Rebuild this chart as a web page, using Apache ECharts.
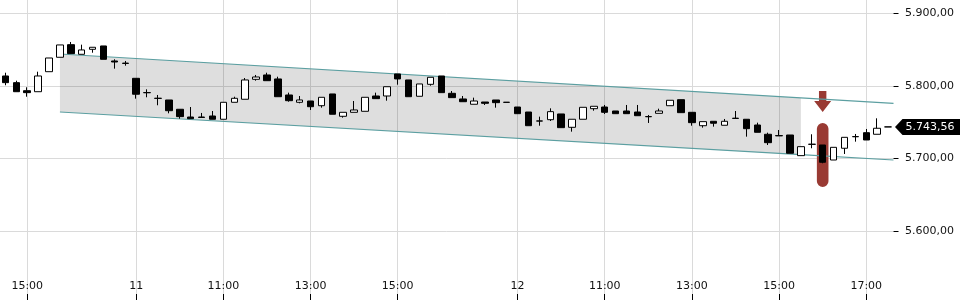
<!DOCTYPE html>
<html><head><meta charset="utf-8">
<script src="https://cdn.jsdelivr.net/npm/echarts@6/dist/echarts.min.js"></script>
<style>html,body{margin:0;padding:0;background:#fff}#c{width:960px;height:300px}</style>
</head><body><div id="c"></div>
<script>
// Sessions (day, first candle, last candle) of 15-minute candles
const sessionDays  = ['10', '11', '12'];
const sessionStart = ['14:30', '09:00', '09:00'];
const sessionEnd   = ['17:15', '17:30', '17:30'];

// Candle values
const openVals  = [5813.8,5804.6,5793.5,5792.1,5819.7,5839.6,5857.0,5843.7,5850.6,5855.2,5834.5,5831.0,
  5810.6,5790.9,5783.1,5780.7,5767.9,5757.2,5757.2,5758.6,5754.1,5777.5,5781.7,5809.2,5815.2,5809.7,5787.6,5777.5,
  5779.3,5772.8,5789.0,5758.2,5763.7,5765.1,5786.2,5786.2,5816.6,5808.3,5785.8,5802.3,5813.8,5789.9,5782.1,5774.8,
  5777.9,5780.7,5777.6,
  5771.0,5764.1,5751.8,5753.5,5761.4,5743.0,5754.1,5768.7,5771.0,5765.5,5765.5,5764.1,5757.8,5762.3,5772.8,5781.1,
  5763.7,5745.2,5751.3,5745.8,5755.6,5754.1,5746.2,5733.4,5731.6,5732.4,5703.9,5719.7,5718.6,5697.9,5714.1,5730.2,
  5735.6,5733.4,5743.56];
const closeVals = [5804.6,5792.1,5790.8,5813.8,5838.6,5856.6,5844.6,5849.7,5853.4,5836.8,5833.1,5831.6,
  5788.6,5790.7,5782.9,5765.9,5757.7,5754.9,5756.6,5754.1,5777.5,5783.0,5808.3,5812.4,5807.3,5785.2,5779.7,5780.7,
  5771.4,5784.4,5761.0,5763.7,5766.9,5784.4,5782.5,5799.0,5809.7,5785.2,5802.8,5812.0,5790.8,5783.9,5778.3,5779.3,
  5776.1,5777.0,5777.4,
  5761.8,5745.2,5751.6,5764.6,5742.5,5754.1,5770.6,5772.0,5763.7,5761.8,5761.8,5759.0,5757.6,5765.5,5780.3,5763.2,
  5749.4,5750.8,5748.6,5751.3,5755.2,5741.1,5736.1,5721.8,5731.2,5707.2,5716.3,5719.5,5694.8,5715.4,5729.2,5730.0,
  5725.5,5741.7,5743.56];
const lowVals   = [5801.0,5792.1,5785.2,5792.1,5819.7,5839.6,5844.6,5843.7,5845.9,5836.8,5823.9,5828.0,
  5782.5,5784.4,5773.4,5762.3,5754.9,5754.9,5756.6,5754.1,5754.1,5777.5,5781.7,5807.3,5807.3,5785.2,5778.3,5776.1,
  5766.9,5770.1,5761.0,5756.3,5763.7,5765.1,5782.5,5779.7,5801.8,5785.2,5785.8,5800.4,5790.8,5783.9,5778.3,5774.8,
  5773.8,5770.1,5777.4,
  5761.8,5745.2,5745.2,5751.7,5742.5,5737.0,5754.1,5765.9,5761.4,5761.8,5761.8,5759.0,5749.0,5762.3,5772.8,5763.2,
  5745.2,5742.5,5743.9,5745.8,5755.2,5730.1,5736.1,5718.6,5731.2,5707.2,5703.9,5714.1,5693.4,5697.9,5706.2,5723.2,
  5725.5,5733.4,5743.56];
const highVals  = [5818.3,5807.3,5798.2,5819.7,5838.6,5856.6,5860.7,5857.0,5853.4,5855.2,5836.8,5834.5,
  5810.6,5795.4,5787.6,5780.7,5767.9,5771.0,5762.8,5765.5,5777.5,5785.2,5811.0,5815.2,5818.3,5812.8,5790.8,5786.2,
  5779.3,5784.4,5789.0,5763.7,5779.3,5784.4,5790.8,5799.0,5816.6,5808.3,5802.8,5812.0,5813.8,5793.1,5786.2,5783.9,
  5777.9,5780.7,5777.6,
  5771.0,5764.1,5757.7,5769.2,5761.4,5754.1,5770.6,5772.0,5773.8,5765.5,5773.8,5773.8,5760.0,5768.7,5780.3,5781.1,
  5763.7,5750.8,5751.3,5754.5,5765.5,5754.1,5749.4,5735.6,5739.3,5732.4,5716.3,5733.4,5718.6,5715.4,5729.2,5733.8,
  5740.7,5755.4,5743.56];
const lastPrice = 5743.56;

// Trend channel (x = candle index, y = price)
const channelUpper = [[5, 5844.1], [73, 5783.7], [81.5, 5776.1]];
const channelLower = [[5, 5764.1], [73, 5705.3], [81.5, 5697.9]];

// Signal marker (candle index, arrow top / shaft end / tip, bar top / bottom)
const markerIndex = 75;
const arrowLevels = [5793.1, 5779.3, 5764.1];
const barLevels = [5749.0, 5660.7];

// Axis tick labels
const tickCategories = ['10 15:00','11 09:00','11 11:00','11 13:00','11 15:00','12 09:00','12 11:00','12 13:00','12 15:00','12 17:00'];

const toMin = s => { const p = s.split(':'); return (+p[0]) * 60 + (+p[1]); };
const pad = n => (n < 10 ? '0' : '') + n;
const categories = [];
sessionDays.forEach((d, i) => {
  for (let m = toMin(sessionStart[i]); m <= toMin(sessionEnd[i]); m += 15) {
    categories.push(d + ' ' + pad(Math.floor(m / 60)) + ':' + pad(m % 60));
  }
});
const candleData = openVals.map((o, i) => [o, closeVals[i], lowVals[i], highVals[i]]);

const fmtDE = v => {
  const s = v.toFixed(2).split('.');
  return s[0].replace(/\B(?=(\d{3})+(?!\d))/g, '.') + ',' + s[1];
};
const showTick = (idx, val) => tickCategories.indexOf(categories[idx]) >= 0;
const FONT = 'DejaVu Sans';
const RED = '#993a33';
const gridColor = '#dadada';

const chart = echarts.init(document.getElementById('c'), null, {renderer: 'canvas'});
chart.setOption({
  animation: false,
  grid: {left: 0, right: 66.5, top: 0, bottom: 0},
  xAxis: [{
    type: 'category', data: categories, boundaryGap: true,
    axisLine: {show: false, onZero: false},
    axisTick: {show: true, inside: true, length: 6, alignWithLabel: true, interval: showTick, lineStyle: {color: '#000'}},
    axisLabel: {inside: true, margin: 8, interval: showTick, color: '#111', fontFamily: FONT, fontSize: 11,
      formatter: v => { const p = v.split(' '); return p[1] === '09:00' ? p[0] : p[1]; }},
    splitLine: {show: true, interval: showTick, alignWithLabel: true, lineStyle: {color: gridColor}}
  }, {
    type: 'value', min: -0.5, max: 81.5, show: false, axisLine: {onZero: false}
  }],
  yAxis: {
    type: 'value', position: 'right', min: 5504.8, max: 5918.6, splitNumber: 4, minInterval: 100, maxInterval: 100,
    axisLine: {show: false, onZero: false},
    axisTick: {show: true, length: 5, lineStyle: {color: '#000'}},
    axisLabel: {margin: 11.5, color: '#111', fontFamily: FONT, fontSize: 11, showMinLabel: false, showMaxLabel: false,
      formatter: v => fmtDE(v)},
    splitLine: {show: true, showMinLine: false, showMaxLine: false, lineStyle: {color: gridColor}}
  },
  series: [{
    type: 'custom', xAxisIndex: 1, yAxisIndex: 0, silent: true, clip: false, z: 1,
    data: [channelUpper[0]],
    renderItem: (params, api) => ({
      type: 'polygon',
      shape: {points: [api.coord(channelUpper[0]), api.coord(channelUpper[1]), api.coord(channelLower[1]), api.coord(channelLower[0])]},
      style: {fill: 'rgba(0,0,0,0.13)'}
    })
  }, {
    type: 'line', xAxisIndex: 1, yAxisIndex: 0, data: channelUpper, symbol: 'none', silent: true, z: 3,
    lineStyle: {color: '#5c9fa1', width: 1.2}
  }, {
    type: 'line', xAxisIndex: 1, yAxisIndex: 0, data: channelLower, symbol: 'none', silent: true, z: 3,
    lineStyle: {color: '#5c9fa1', width: 1.2}
  }, {
    type: 'custom', xAxisIndex: 1, yAxisIndex: 0, silent: true, clip: false, z: 3,
    data: [[markerIndex, arrowLevels[0]]],
    renderItem: (params, api) => {
      const a0 = api.coord([markerIndex, arrowLevels[0]]);
      const a1 = api.coord([markerIndex, arrowLevels[1]]);
      const a2 = api.coord([markerIndex, arrowLevels[2]]);
      const b0 = api.coord([markerIndex, barLevels[0]]);
      const b1 = api.coord([markerIndex, barLevels[1]]);
      const x = a0[0];
      return {type: 'group', children: [
        {type: 'polygon', shape: {points: [[x - 3.7, a0[1]], [x + 3.7, a0[1]], [x + 3.7, a1[1]], [x + 8.5, a1[1]], [x, a2[1]], [x - 8.5, a1[1]], [x - 3.7, a1[1]]]}, style: {fill: RED}},
        {type: 'rect', shape: {x: x - 5.8, y: b0[1], width: 11.6, height: b1[1] - b0[1], r: 5.8}, style: {fill: RED}}
      ]};
    }
  }, {
    type: 'candlestick', xAxisIndex: 0, yAxisIndex: 0, data: candleData, barWidth: 7, z: 4,
    itemStyle: {color: '#ffffff', color0: '#000000', borderColor: '#000000', borderColor0: '#000000', borderWidth: 1}
  }, {
    type: 'custom', xAxisIndex: 1, yAxisIndex: 0, silent: true, clip: false, z: 10,
    data: [[81.5, lastPrice]],
    renderItem: (params, api) => {
      const p = api.coord([81.5, lastPrice]);
      const x = p[0], y = p[1];
      return {type: 'group', children: [
        {type: 'polygon', shape: {points: [[x + 1.5, y], [x + 9, y - 8], [x + 70, y - 8], [x + 70, y + 8], [x + 9, y + 8]]}, style: {fill: '#000'}},
        {type: 'text', x: x + 12, y: y, style: {text: fmtDE(lastPrice), fill: '#fff', font: '11px "DejaVu Sans"', align: 'left', verticalAlign: 'middle'}}
      ]};
    }
  }]
});
</script></body></html>
